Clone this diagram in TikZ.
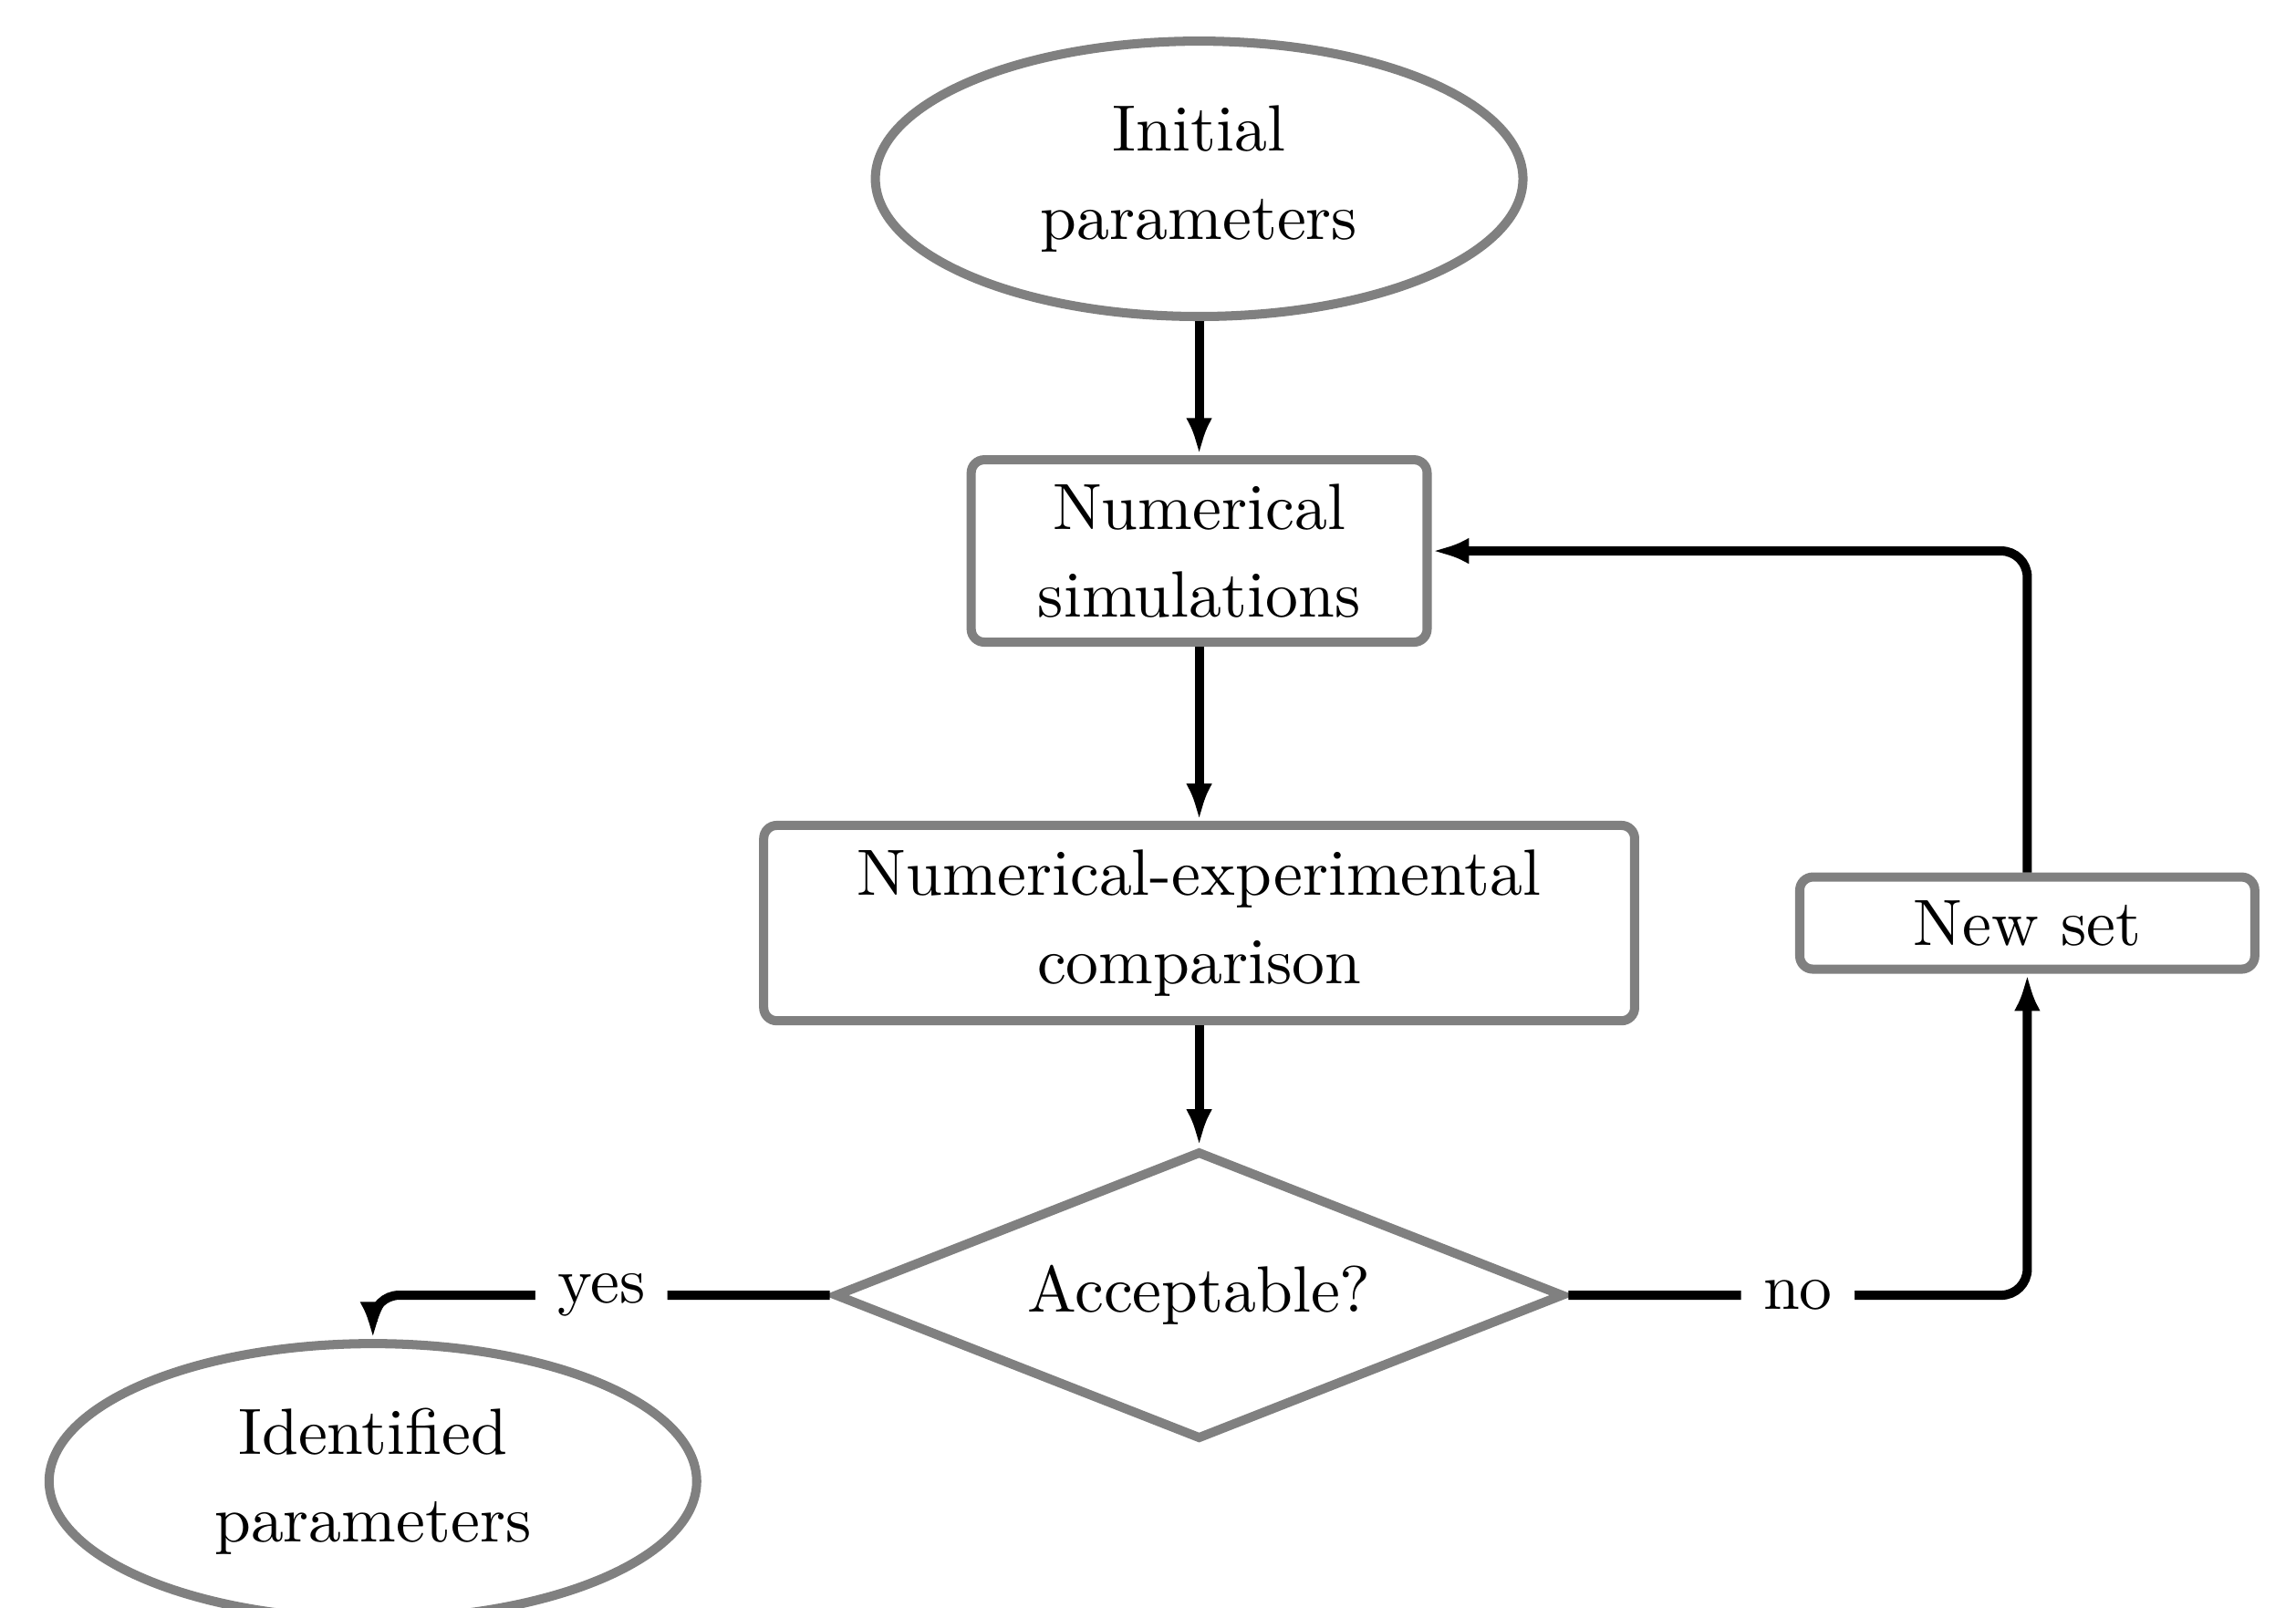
\documentclass[tikz,border=0pt]{standalone}
\usepackage{amsmath}
\usetikzlibrary{shapes.geometric,arrows.meta}

\begin{document}
\begin{tikzpicture}[>={Latex[length=2mm,width=1.4mm]}]
\tikzstyle{every node}+=[font=\fontsize{10}{13.4}\selectfont, align=center]
\tikzstyle{term}=[draw=gray, line width=1.4pt, ellipse, fill=white, minimum width=3.48cm, minimum height=1.48cm, inner sep=0pt]
\tikzstyle{proc}=[draw=gray, line width=1.4pt, rectangle, rounded corners=2pt, fill=white, inner sep=0pt]
\tikzstyle{test}=[draw=gray, line width=1.4pt, diamond, aspect=2.5, fill=white, minimum width=3.92cm, minimum height=1.55cm, inner sep=0pt]
\tikzstyle{flow}=[black, line width=1.4pt, ->, rounded corners=4pt]
\tikzstyle{answer}=[fill=white, inner sep=3.4pt]
\useasboundingbox (-6.444,0.961) rectangle (5.894,-7.681);
\node [term] (init) at (0,0) {Initial\\parameters};
\node [proc, minimum width=2.45cm, minimum height=0.98cm] (sim) at (0,-2) {Numerical\\simulations};
\node [proc, minimum width=4.68cm, minimum height=1.05cm] (comp) at (0,-4) {Numerical-experimental\\comparison};
\node [test] (check) at (0,-6) {Acceptable?};
\node [proc, minimum width=2.445cm, minimum height=0.495cm] (newset) at (4.45,-4) {New set};
\node [term] (ident) at (-4.44,-7) {Identified\\parameters};
\draw [flow] (init) -- (sim);
\draw [flow] (sim) -- (comp);
\draw [flow] (comp) -- (check);
\draw [flow] (check.west) -| node [answer, pos=0.25] {yes} (ident.north);
\draw [flow] (check.east) -| node [answer, pos=0.25] {no} (newset.south);
\draw [flow] (newset.north) |- (sim.east);
\end{tikzpicture}
\end{document}
